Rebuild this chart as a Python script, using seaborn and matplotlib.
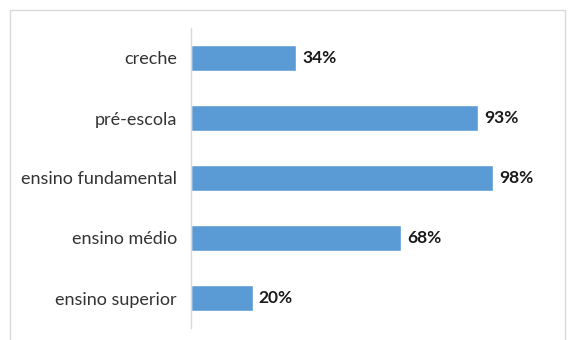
import matplotlib
matplotlib.use("Agg")
import matplotlib.pyplot as plt
import seaborn as sns
import pandas as pd
from matplotlib.patches import Rectangle

categories = ["creche", "pré-escola", "ensino fundamental", "ensino médio", "ensino superior"]
values = [34, 93, 98, 68, 20]
value_labels = ["34%", "93%", "98%", "68%", "20%"]

df = pd.DataFrame({"cat": categories, "val": values})

sns.set_theme(style="white")
plt.rcParams['font.family'] = ['Lato', 'DejaVu Sans']

fig = plt.figure(figsize=(5.69, 3.40), dpi=100)
ax = fig.add_axes([191/569, 1-328/340, (555-191)/569, 300/340])

sns.barplot(data=df, x="val", y="cat", orient="h", color="#5B9BD5",
            saturation=1, width=0.42, ax=ax)

ax.set_xlim(0, 118)
ax.set_xlabel("")
ax.set_ylabel("")
ax.set_xticks([])
for s in ["top", "right", "bottom"]:
    ax.spines[s].set_visible(False)
ax.spines["left"].set_color("#D9D9D9")
ax.spines["left"].set_linewidth(1)
ax.tick_params(axis="y", length=0, pad=10, labelsize=13, labelcolor="#333333")

for i, (v, lab) in enumerate(zip(values, value_labels)):
    ax.text(v + 2.0, i, lab, va="center", ha="left", fontsize=12.5,
            fontweight="bold", color="#1a1a1a")

fig.patches.append(Rectangle((10/569, -0.05), (565-10)/569, 1.05 - 10/340,
                             transform=fig.transFigure, fill=False,
                             edgecolor="#D9D9D9", linewidth=1))

fig.savefig("out.png", dpi=100)
